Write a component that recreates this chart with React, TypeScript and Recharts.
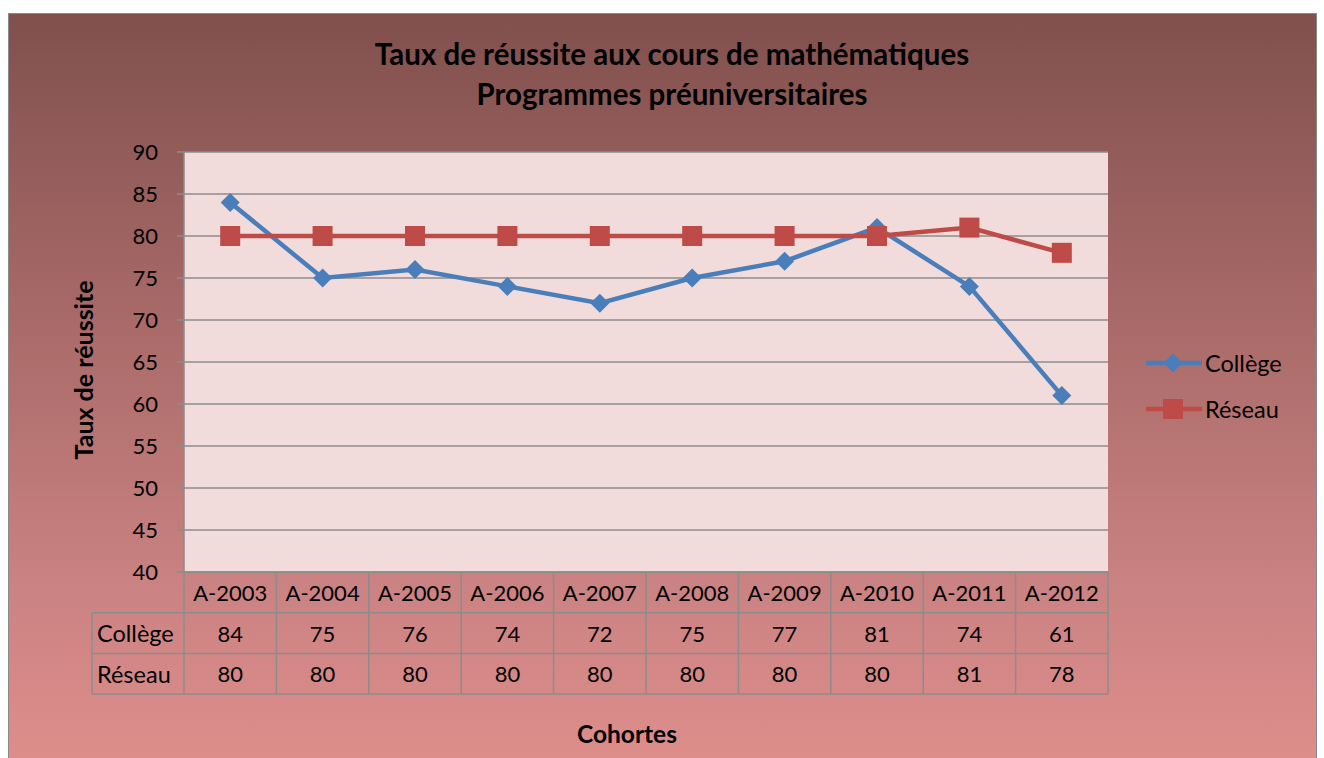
import { LineChart, Line, XAxis, YAxis, CartesianGrid } from "recharts";

const categories = ["A-2003", "A-2004", "A-2005", "A-2006", "A-2007", "A-2008", "A-2009", "A-2010", "A-2011", "A-2012"];
const college = [84, 75, 76, 74, 72, 75, 77, 81, 74, 61];
const reseau = [80, 80, 80, 80, 80, 80, 80, 80, 81, 78];
const yTicks = [40, 45, 50, 55, 60, 65, 70, 75, 80, 85, 90];
const seriesNames = ["Collège", "Réseau"];

const data = categories.map((c, i) => ({ cohorte: c, college: college[i], reseau: reseau[i] }));

const FONT = "Lato, 'Open Sans', sans-serif";
const BLUE = "#4A7EBB";
const RED = "#BE4B48";
const GRID = "#8C8C8C";
const PLOT_LEFT = 184;
const PLOT_RIGHT = 1108;
const ROW = 40.7;
const HEAD_LEFT = 92;

function Diamond(props: any) {
  const { cx, cy } = props;
  if (cx == null || cy == null) return null;
  const r = 9.5;
  return <path d={`M${cx},${cy - r}L${cx + r},${cy}L${cx},${cy + r}L${cx - r},${cy}Z`} fill={BLUE} />;
}

function Square(props: any) {
  const { cx, cy } = props;
  if (cx == null || cy == null) return null;
  return <rect x={cx - 10} y={cy - 10} width={20} height={20} fill={RED} />;
}

function TableTick(props: any) {
  const { x, y, payload } = props;
  const i = payload.index;
  const bw = (PLOT_RIGHT - PLOT_LEFT) / categories.length;
  const left = x - bw / 2;
  const right = left + bw;
  const line = { stroke: GRID, strokeWidth: 1.5 };
  const txt = { fontFamily: FONT, fontSize: 22, fill: "#000", dominantBaseline: "central" as const };
  return (
    <g>
      <line x1={right} y1={y} x2={right} y2={y + ROW * 3} {...line} />
      {i === 0 && (
        <g>
          <line x1={left} y1={y} x2={left} y2={y + ROW * 3} {...line} />
          <line x1={HEAD_LEFT} y1={y + ROW} x2={HEAD_LEFT} y2={y + ROW * 3} {...line} />
          <line x1={HEAD_LEFT} y1={y + ROW} x2={left} y2={y + ROW} {...line} />
          <line x1={HEAD_LEFT} y1={y + ROW * 2} x2={left} y2={y + ROW * 2} {...line} />
          <line x1={HEAD_LEFT} y1={y + ROW * 3} x2={left} y2={y + ROW * 3} {...line} />
          <text x={HEAD_LEFT + 5} y={y + ROW * 1.5} {...txt} fontSize={23.5}>{seriesNames[0]}</text>
          <text x={HEAD_LEFT + 5} y={y + ROW * 2.5} {...txt} fontSize={23.5}>{seriesNames[1]}</text>
        </g>
      )}
      <line x1={left} y1={y + ROW} x2={right} y2={y + ROW} {...line} />
      <line x1={left} y1={y + ROW * 2} x2={right} y2={y + ROW * 2} {...line} />
      <line x1={left} y1={y + ROW * 3} x2={right} y2={y + ROW * 3} {...line} />
      <text x={x} y={y + ROW * 0.5} textAnchor="middle" {...txt}>{payload.value}</text>
      <text x={x} y={y + ROW * 1.5} textAnchor="middle" {...txt}>{college[i]}</text>
      <text x={x} y={y + ROW * 2.5} textAnchor="middle" {...txt}>{reseau[i]}</text>
    </g>
  );
}

export default function App() {
  return (
    <div style={{ position: "absolute", left: 0, top: 0, width: 1324, height: 758, overflow: "hidden", background: "#fff", fontFamily: FONT }}>
      <div
        style={{
          position: "absolute",
          left: 8,
          top: 13,
          width: 1307,
          height: 760,
          border: "1px solid #8a8a8a",
          background: "linear-gradient(180deg, #80504d 0%, #a86a68 40%, #ca8282 75%, #df8f8c 100%)",
        }}
      />
      <div style={{ position: "absolute", left: 0, top: 0 }}>
        <LineChart width={1324} height={758} data={data} margin={{ top: 152, right: 216, bottom: 64, left: 124 }}>
          <CartesianGrid vertical={false} stroke={GRID} strokeWidth={1.5} fill="#F2DCDB" />
          <XAxis
            dataKey="cohorte"
            scale="band"
            height={122}
            interval={0}
            tickLine={false}
            tickSize={0}
            tickMargin={0}
            axisLine={{ stroke: GRID, strokeWidth: 1.5 }}
            tick={<TableTick />}
          />
          <YAxis
            width={60}
            domain={[40, 90]}
            ticks={yTicks}
            interval={0}
            tickSize={7}
            tickMargin={19}
            axisLine={{ stroke: GRID, strokeWidth: 1.5 }}
            tickLine={{ stroke: GRID, strokeWidth: 1.5 }}
            tick={{ fill: "#000", fontSize: 22, fontFamily: FONT }}
          />
          <Line dataKey="college" name={seriesNames[0]} stroke={BLUE} strokeWidth={4.5} dot={<Diamond />} activeDot={false} isAnimationActive={false} />
          <Line dataKey="reseau" name={seriesNames[1]} stroke={RED} strokeWidth={4.5} dot={<Square />} activeDot={false} isAnimationActive={false} />
        </LineChart>
      </div>
      <div style={{ position: "absolute", left: 0, width: 1344, top: 34, textAlign: "center", fontWeight: 700, fontSize: 29.5, lineHeight: "40px", color: "#000" }}>
        <div>Taux de réussite aux cours de mathématiques</div>
        <div>Programmes préuniversitaires</div>
      </div>
      <div
        style={{
          position: "absolute",
          left: 83,
          top: 370,
          transform: "translate(-50%, -50%) rotate(-90deg)",
          whiteSpace: "nowrap",
          fontWeight: 700,
          fontSize: 25,
        }}
      >
        Taux de réussite
      </div>
      <div style={{ position: "absolute", left: 627, top: 733, transform: "translate(-50%, -50%)", fontWeight: 700, fontSize: 24.5 }}>Cohortes</div>
      {seriesNames.map((name, i) => (
        <div key={name} style={{ position: "absolute", left: 1146, top: i === 0 ? 363 : 409, transform: "translateY(-50%)", display: "flex", alignItems: "center" }}>
          <svg width={56} height={24}>
            <line x1={0} y1={12} x2={56} y2={12} stroke={i === 0 ? BLUE : RED} strokeWidth={4.5} />
            {i === 0 ? <Diamond cx={27} cy={12} /> : <Square cx={27} cy={12} />}
          </svg>
          <span style={{ fontSize: 23.5, marginLeft: 3, color: "#000" }}>{name}</span>
        </div>
      ))}
    </div>
  );
}
